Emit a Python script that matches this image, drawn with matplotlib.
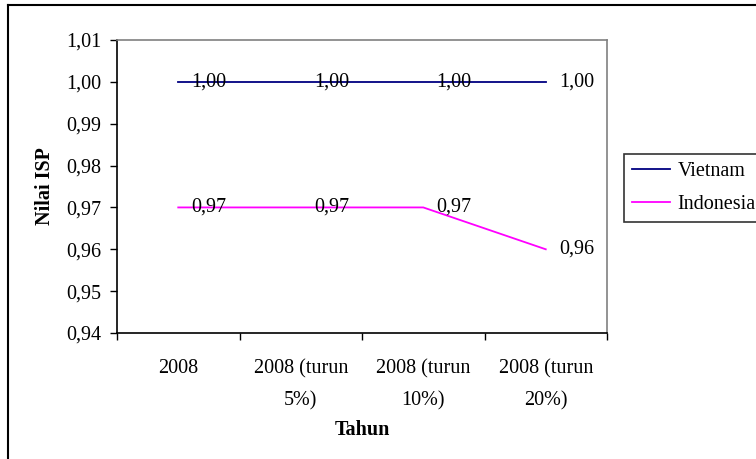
import matplotlib
matplotlib.use("Agg")
import matplotlib.pyplot as plt
from matplotlib.lines import Line2D

categories = ["2008", "2008 (turun\n5%)", "2008 (turun\n10%)", "2008 (turun\n20%)"]
vietnam = [1.00, 1.00, 1.00, 1.00]
indonesia = [0.97, 0.97, 0.97, 0.96]
y_ticks = [0.94, 0.95, 0.96, 0.97, 0.98, 0.99, 1.00, 1.01]

plt.rcParams["font.family"] = ["Liberation Serif", "DejaVu Serif"]
FS = 14.5

W, H = 756, 459
fig = plt.figure(figsize=(W / 100, H / 100), dpi=100)
ax = fig.add_axes([117 / W, 1 - 333 / H, (607 - 117) / W, (333 - 40) / H])

x = list(range(len(categories)))
ax.plot(x, vietnam, color="#000080", lw=1.3, label="Vietnam")
ax.plot(x, indonesia, color="#FF00FF", lw=1.3, label="Indonesia")

for series in (vietnam, indonesia):
    for xi, v in zip(x, series):
        ax.annotate(f"{v:.2f}".replace(".", ","), (xi, v), xytext=(31, 0),
                    textcoords="offset pixels", ha="center", va="center",
                    fontsize=FS, color="black")

ax.set_xlim(-0.5, len(categories) - 0.5)
ax.set_ylim(0.94, 1.01)
ax.set_yticks(y_ticks)
ax.set_yticklabels([f"{t:.2f}".replace(".", ",") for t in y_ticks], fontsize=FS)
ax.set_xticks(x)
ax.set_xticklabels(categories, fontsize=FS, linespacing=1.9)
ax.set_xticks([i - 0.5 for i in range(len(categories) + 1)], minor=True)
ax.tick_params(axis="x", which="major", length=0, pad=19)
ax.tick_params(axis="x", which="minor", length=5, width=1, direction="out", color="black")
ax.tick_params(axis="y", which="major", length=5, width=1, direction="out", pad=6)

for side in ("top", "right"):
    ax.spines[side].set_color("#808080")
    ax.spines[side].set_linewidth(1.2)
for side in ("left", "bottom"):
    ax.spines[side].set_color("black")
    ax.spines[side].set_linewidth(1.2)

ax.set_ylabel("Nilai ISP", fontsize=FS, fontweight="bold", labelpad=8)
ax.set_xlabel("Tahun", fontsize=FS, fontweight="bold", labelpad=7)

leg = fig.legend(loc="upper left", bbox_to_anchor=(624 / W, 1 - 154 / H),
                 fontsize=FS, frameon=True, fancybox=False, handlelength=1.9,
                 handletextpad=0.35, labelspacing=0.7, borderpad=0.4,
                 borderaxespad=0)
leg.get_frame().set_edgecolor("black")
leg.get_frame().set_linewidth(1.2)

# outer chart frame
fig.add_artist(Line2D([7.5 / W, 7.5 / W], [0, 1 - 5 / H], transform=fig.transFigure,
                      color="black", lw=1.5))
fig.add_artist(Line2D([7.5 / W, 1], [1 - 5 / H, 1 - 5 / H], transform=fig.transFigure,
                      color="black", lw=1.5))

fig.savefig("out.png", dpi=100)
